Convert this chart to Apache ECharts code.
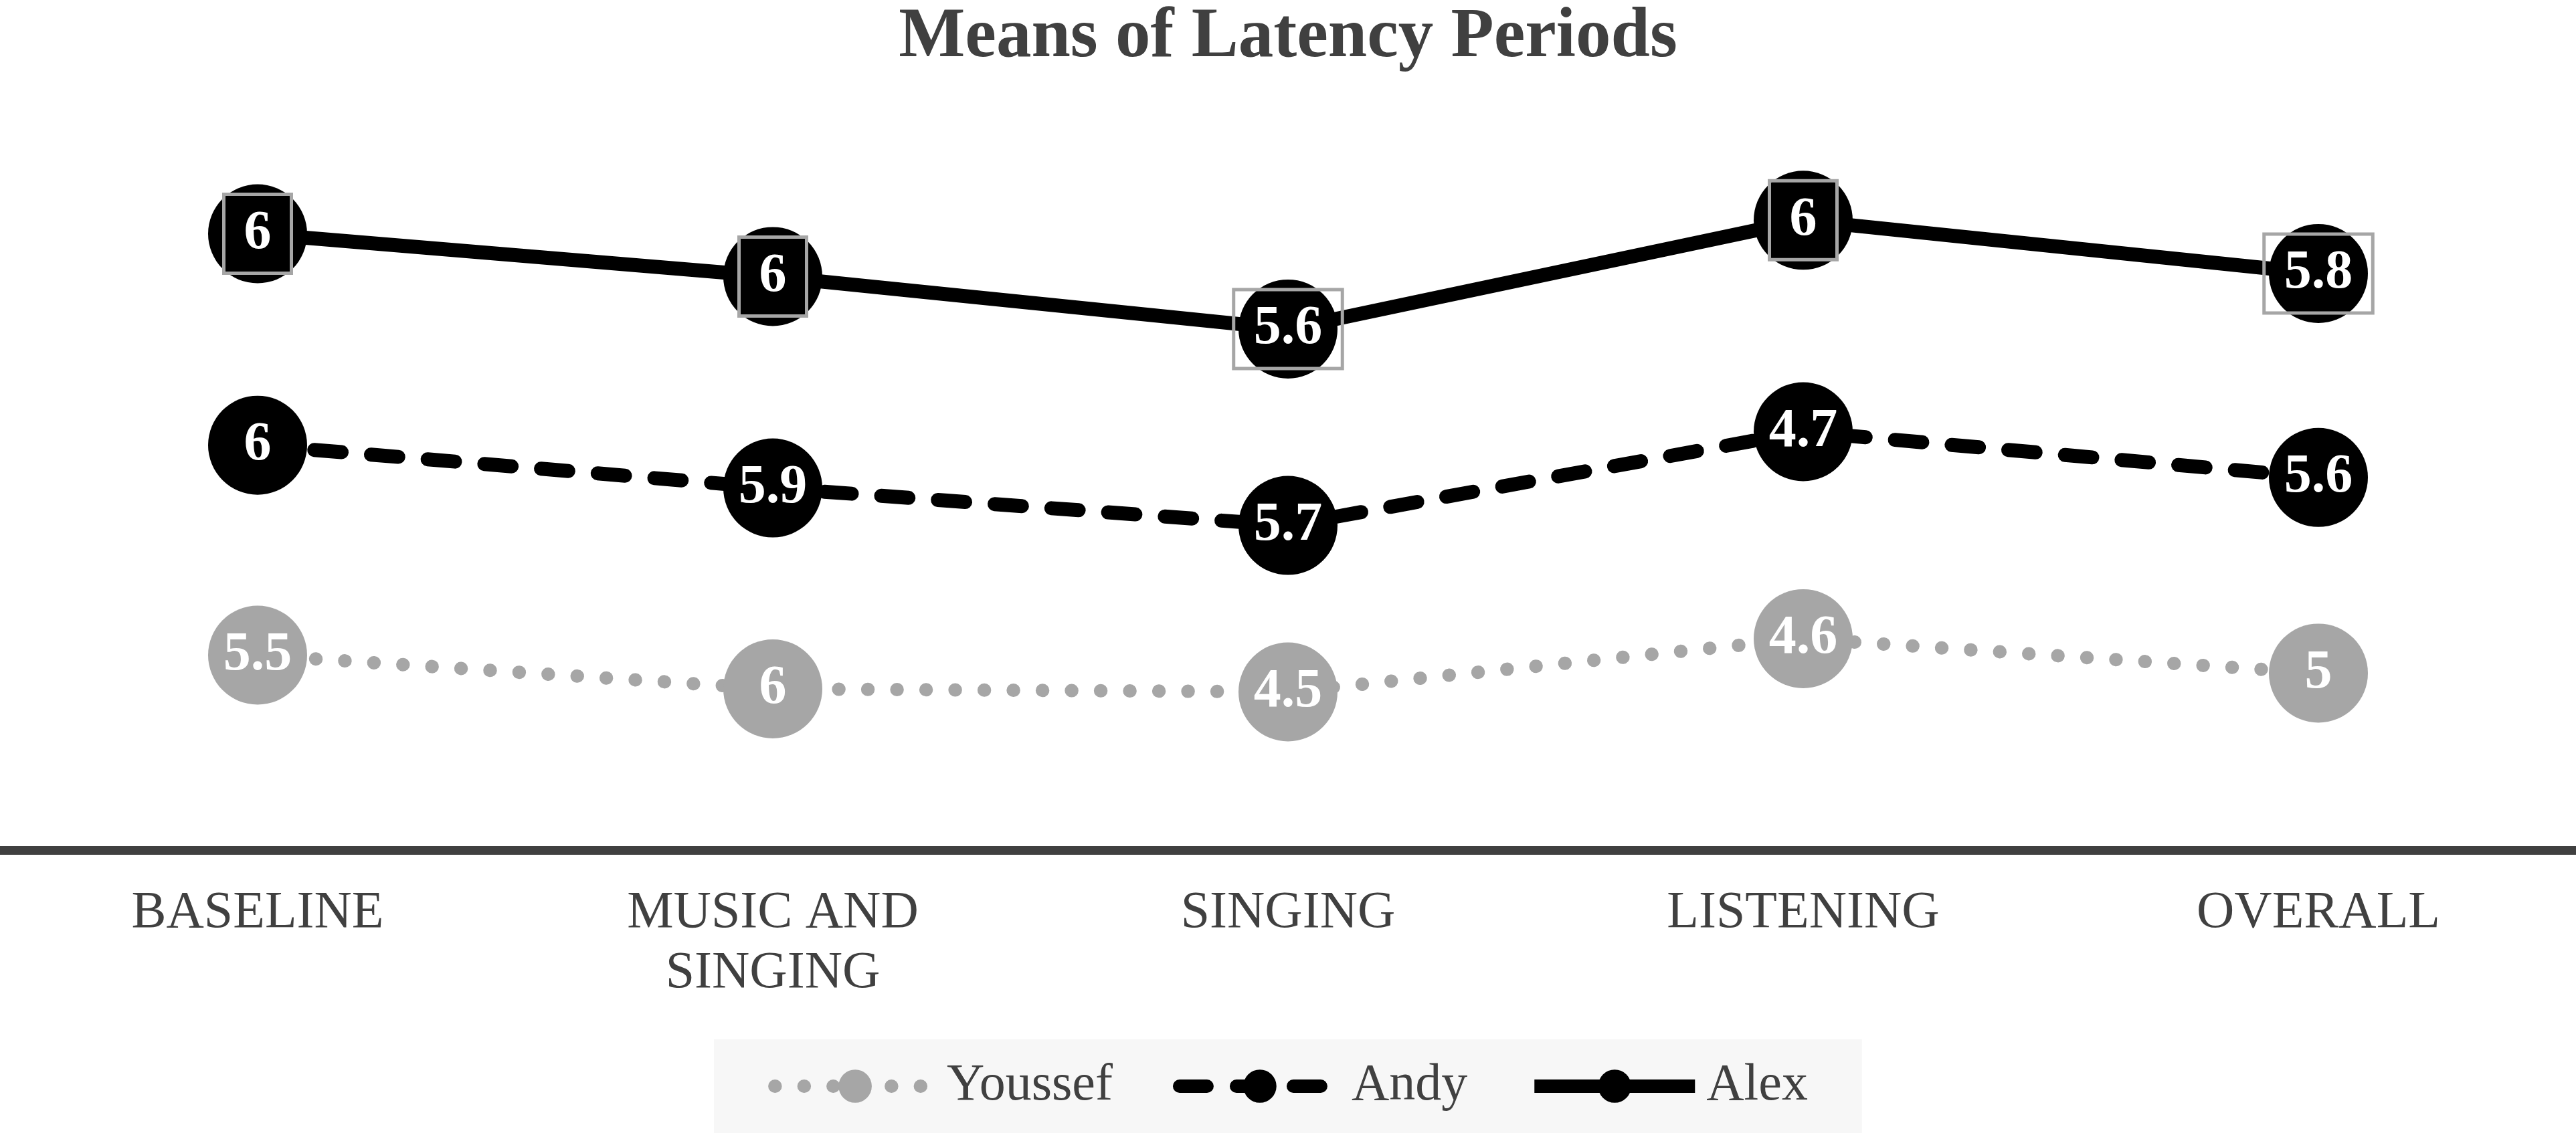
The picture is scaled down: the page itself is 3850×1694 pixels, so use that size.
<!DOCTYPE html>
<html>
<head>
<meta charset="utf-8">
<script src="https://cdn.jsdelivr.net/npm/echarts@6/dist/echarts.min.js"></script>
<style>
  html, body { margin: 0; padding: 0; background: #ffffff; }
  #chart { width: 3850px; height: 1694px; }
</style>
</head>
<body>
<div id="chart"></div>
<script>
// categories on the x axis
const categories = ['BASELINE', 'MUSIC AND\nSINGING', 'SINGING', 'LISTENING', 'OVERALL']

// plotted heights (hidden axis)
const youssefPos = [2.60, 2.15, 2.11, 2.82, 2.36]
const andyPos = [5.40, 4.83, 4.33, 5.58, 4.97]
const alexPos = [8.22, 7.65, 6.95, 8.40, 7.69]

// values printed inside the markers
const youssefLabels = ['5.5', '6', '4.5', '4.6', '5']
const andyLabels = ['6', '5.9', '5.7', '4.7', '5.6']
const alexLabels = ['6', '6', '5.6', '6', '5.8']

const serif = 'Liberation Serif'
const grey = '#a6a6a6'
const textColor = '#404040'

const chart = echarts.init(document.getElementById('chart'))

function markerLabel(labels, extra) {
    return Object.assign({
        show: true,
        position: 'inside',
        color: '#ffffff',
        fontFamily: serif,
        fontWeight: 'bold',
        fontSize: 82,
        formatter: p => labels[p.dataIndex]
    }, extra || {})
}

const option = {
    animation: false,
    backgroundColor: '#ffffff',
    title: {
        text: 'Means of Latency Periods',
        left: 'center',
        top: 4,
        padding: 0,
        textStyle: {
            fontFamily: serif,
            fontWeight: 'bold',
            fontSize: 105,
            color: textColor
        }
    },
    legend: {
        data: ['Youssef', 'Andy', 'Alex'],
        left: 'center',
        top: 1554,
        padding: [31, 81],
        itemWidth: 240,
        itemHeight: 62,
        itemGap: 90,
        backgroundColor: '#f7f7f7',
        lineStyle: { width: 20 },
        textStyle: {
            fontFamily: serif,
            fontSize: 78,
            color: textColor,
            padding: [0, 0, 0, 12]
        }
    },
    grid: {
        left: 0,
        right: 0,
        top: 150,
        bottom: 423
    },
    xAxis: {
        type: 'category',
        data: categories,
        boundaryGap: true,
        axisTick: { show: false },
        axisLine: {
            show: true,
            lineStyle: { color: textColor, width: 13 }
        },
        axisLabel: {
            interval: 0,
            margin: 50,
            fontFamily: serif,
            fontSize: 78,
            lineHeight: 90,
            color: textColor
        }
    },
    yAxis: {
        type: 'value',
        min: 0,
        max: 10,
        show: false,
        splitLine: { show: false }
    },
    series: [
        {
            name: 'Youssef',
            type: 'line',
            data: youssefPos,
            symbol: 'circle',
            symbolSize: 148,
            itemStyle: { color: grey },
            lineStyle: { color: grey, width: 20, type: [0.5, 43], cap: 'round' },
            label: markerLabel(youssefLabels)
        },
        {
            name: 'Andy',
            type: 'line',
            data: andyPos,
            symbol: 'circle',
            symbolSize: 148,
            itemStyle: { color: '#000000' },
            lineStyle: { color: '#000000', width: 21, type: [41, 44], cap: 'round' },
            label: markerLabel(andyLabels)
        },
        {
            name: 'Alex',
            type: 'line',
            data: alexPos,
            symbol: 'circle',
            symbolSize: 148,
            itemStyle: { color: '#000000' },
            lineStyle: { color: '#000000', width: 21 },
            label: markerLabel(alexLabels, {
                borderColor: grey,
                borderWidth: 5,
                padding: [18, 30]
            })
        }
    ]
}

chart.setOption(option)
window.addEventListener('resize', () => {
    chart.resize()
})
</script>
</body>
</html>
